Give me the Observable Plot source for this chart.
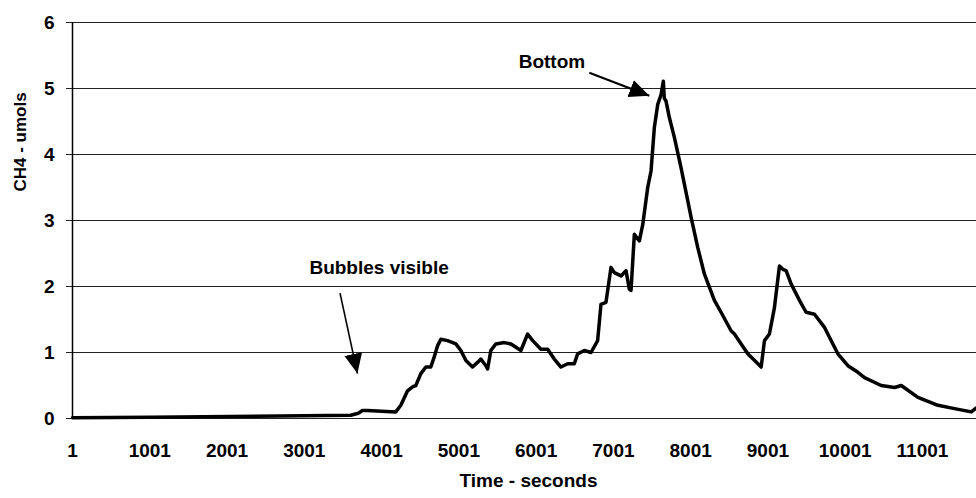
<!DOCTYPE html>
<html><head><meta charset="utf-8">
<script src="https://cdn.jsdelivr.net/npm/d3@7"></script>
<script src="https://cdn.jsdelivr.net/npm/@observablehq/plot@0.6"></script>
<style>body{margin:0;background:#fff} #chart svg{display:block}</style>
</head><body><div id="chart"></div>
<script>
// Time in seconds (sample index) and CH4 in umols
const times = [1, 1011, 2048, 2993, 3602, 3700, 3753, 3818, 4185, 4250, 4337, 4401, 4444, 4509, 4574, 4638, 4681, 4725, 4768, 4855, 4962, 5027, 5092, 5178, 5243, 5286, 5351, 5373, 5415, 5480, 5588, 5675, 5804, 5891, 5956, 6063, 6150, 6236, 6322, 6409, 6495, 6538, 6624, 6711, 6797, 6840, 6905, 6970, 7013, 7100, 7164, 7207, 7229, 7272, 7337, 7381, 7445, 7488, 7531, 7575, 7618, 7647, 7660, 7682, 7725, 7790, 7876, 7963, 8006, 8093, 8178, 8308, 8394, 8524, 8567, 8740, 8913, 8956, 9020, 9085, 9150, 9194, 9236, 9301, 9409, 9495, 9603, 9733, 9906, 10036, 10165, 10251, 10467, 10640, 10726, 10942, 11201, 11416, 11632, 11697];
const values = [0.01, 0.02, 0.03, 0.04, 0.05, 0.08, 0.12, 0.12, 0.10, 0.20, 0.42, 0.48, 0.50, 0.68, 0.78, 0.78, 0.93, 1.10, 1.20, 1.18, 1.13, 1.03, 0.88, 0.78, 0.85, 0.90, 0.80, 0.75, 1.03, 1.13, 1.15, 1.13, 1.03, 1.28, 1.18, 1.05, 1.05, 0.90, 0.78, 0.83, 0.83, 0.98, 1.03, 1.00, 1.18, 1.73, 1.76, 2.29, 2.21, 2.16, 2.24, 1.96, 1.94, 2.79, 2.69, 2.94, 3.50, 3.75, 4.41, 4.76, 4.91, 5.11, 4.85, 4.81, 4.56, 4.26, 3.80, 3.30, 3.05, 2.59, 2.19, 1.79, 1.61, 1.33, 1.28, 0.98, 0.78, 1.18, 1.28, 1.68, 2.31, 2.26, 2.24, 2.04, 1.79, 1.61, 1.58, 1.38, 0.98, 0.80, 0.70, 0.62, 0.50, 0.47, 0.50, 0.32, 0.20, 0.15, 0.10, 0.16];

const xTicks = [1, 1001, 2001, 3001, 4001, 5001, 6001, 7001, 8001, 9001, 10001, 11001];
const yTicks = [0, 1, 2, 3, 4, 5, 6];

const xTitle = "Time - seconds";
const yTitle = "CH4 - umols";

// Annotations (data units)
const annotationLabels = ["Bottom", "Bubbles visible"];
const labelX = [6205, 3969];
const labelY = [5.41, 2.28];
const arrowX1 = [6689, 3463];
const arrowY1 = [5.24, 1.90];
const arrowX2 = [7466, 3689];
const arrowY2 = [4.89, 0.68];
const arrowStroke = [2.2, 1.6];

const series = times.map((t, i) => ({t, v: values[i]}));
const annotations = annotationLabels.map((label, i) => ({
  label, lx: labelX[i], ly: labelY[i],
  x1: arrowX1[i], y1: arrowY1[i], x2: arrowX2[i], y2: arrowY2[i], sw: arrowStroke[i]
}));

function triangleHead(color, context) {
  const ns = "http://www.w3.org/2000/svg";
  const doc = context.document;
  const m = doc.createElementNS(ns, "marker");
  m.setAttribute("viewBox", "-20 -10 20 20");
  m.setAttribute("markerWidth", 20);
  m.setAttribute("markerHeight", 20);
  m.setAttribute("markerUnits", "userSpaceOnUse");
  m.setAttribute("orient", "auto");
  m.setAttribute("refX", 0);
  m.setAttribute("refY", 0);
  const p = doc.createElementNS(ns, "path");
  p.setAttribute("d", "M-20,-9L0,0L-20,9Z");
  p.setAttribute("fill", color);
  p.setAttribute("stroke", "none");
  m.appendChild(p);
  return m;
}

const font = "'Liberation Sans', Arial, Helvetica, sans-serif";

const chart = Plot.plot({
  width: 976,
  height: 498,
  marginLeft: 72,
  marginRight: 0,
  marginTop: 22,
  marginBottom: 80,
  x: {domain: [1, 11700]},
  y: {domain: [0, 6]},
  style: {fontFamily: font, fontSize: "19px", fontWeight: "bold", color: "#000", background: "#fff", overflow: "visible"},
  marks: [
    Plot.ruleY(yTicks, {stroke: "#222", strokeWidth: 1, insetLeft: -6}),
    Plot.ruleX([1], {stroke: "#000", strokeWidth: 1.5}),
    Plot.axisY(yTicks, {tickSize: 0, tickPadding: 18, label: null, tickFormat: d => String(d), fontSize: 19, fontWeight: "bold"}),
    Plot.axisX(xTicks, {tickSize: 0, tickPadding: 25, label: null, tickFormat: d => String(d), fontSize: 19, fontWeight: "bold"}),
    Plot.line(series, {x: "t", y: "v", stroke: "#000", strokeWidth: 3.5, strokeLinejoin: "round", strokeLinecap: "round"}),
    Plot.link(annotations, {x1: "x1", y1: "y1", x2: "x2", y2: "y2", stroke: "#000", strokeWidth: "sw", markerEnd: triangleHead}),
    Plot.text(annotations, {x: "lx", y: "ly", text: "label", fill: "#000", fontSize: 19, fontWeight: "bold"}),
    Plot.text([xTitle], {frameAnchor: "bottom", dy: 68, text: d => d, fill: "#000", fontSize: 19, fontWeight: "bold", dx: 4}),
    Plot.text([yTitle], {frameAnchor: "left", dx: -52, dy: -29, rotate: -90, text: d => d, fill: "#000", fontSize: 17, fontWeight: "bold"})
  ]
});
document.getElementById("chart").appendChild(chart);
</script>
</body></html>
